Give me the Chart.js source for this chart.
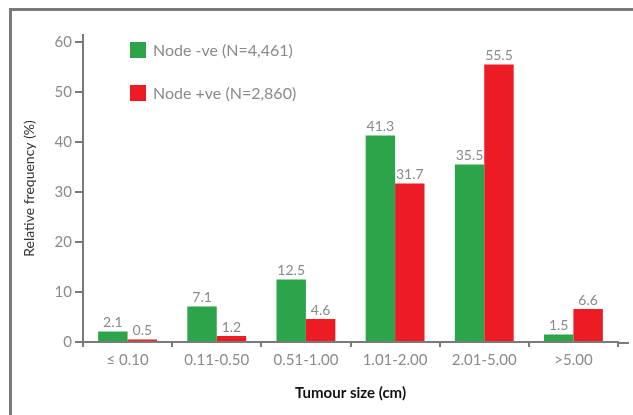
<!DOCTYPE html>
<html>
<head>
<meta charset="utf-8">
<script src="https://cdn.jsdelivr.net/npm/chart.js@4/dist/chart.umd.min.js"></script>
<style>
  html, body { margin: 0; padding: 0; background: #fff; }
  #wrap { position: relative; width: 633px; height: 415px; overflow: hidden; }
  #frame { position: absolute; left: 9px; top: 8px; width: 800px; height: 600px;
           border: 3px solid #7a7a7a; }
  #chart { position: absolute; left: 0; top: 0; }
  .leg { position: absolute; left: 130px; font-family: Lato, "Open Sans", sans-serif;
         font-size: 16px; color: #8a8a8a; line-height: 16px; white-space: nowrap; }
  .leg span { display: inline-block; width: 16px; height: 16px; vertical-align: top; margin-right: 7px; }
</style>
</head>
<body>
<div id="wrap">
  <div id="frame"></div>
  <canvas id="chart" width="633" height="415"></canvas>
  <div class="leg" style="top:42px"><span style="background:#2ca44a"></span>Node -ve (N=4,461)</div>
  <div class="leg" style="top:85px"><span style="background:#ed1c24"></span>Node +ve (N=2,860)</div>
</div>
<script>
// tumour size categories
const categories = ['\u2264 0.10', '0.11-0.50', '0.51-1.00', '1.01-2.00', '2.01-5.00', '>5.00'];

// relative frequency (%)
const nodeNegative = [2.1, 7.1, 12.5, 41.3, 35.5, 1.5];
const nodePositive = [0.5, 1.2, 4.6, 31.7, 55.5, 6.6];

const yTicks = [0, 10, 20, 30, 40, 50, 60];

const fontFamily = 'Lato, "Open Sans", sans-serif';

// values printed above each bar
const barLabels = {
  id: 'barLabels',
  afterDatasetsDraw(chart) {
    const ctx = chart.ctx;
    ctx.save();
    ctx.font = '14px ' + fontFamily;
    ctx.fillStyle = '#8a8a8a';
    ctx.textAlign = 'center';
    ctx.textBaseline = 'bottom';
    chart.data.datasets.forEach((ds, i) => {
      chart.getDatasetMeta(i).data.forEach((bar, j) => {
        ctx.fillText(ds.data[j].toFixed(1), bar.x, bar.y - 2);
      });
    });
    ctx.restore();
  }
};

// x axis line runs a little past the last category
const axisTail = {
  id: 'axisTail',
  afterDraw(chart) {
    const a = chart.chartArea;
    const ctx = chart.ctx;
    ctx.save();
    ctx.strokeStyle = '#7a7a7a';
    ctx.lineWidth = 2;
    ctx.beginPath();
    ctx.moveTo(a.right - 1, a.bottom + 1);
    ctx.lineTo(a.right + 11, a.bottom + 1);
    ctx.stroke();
    ctx.restore();
  }
};

new Chart(document.getElementById('chart'), {
  type: 'bar',
  data: {
    labels: categories,
    datasets: [
      { label: 'Node -ve (N=4,461)', data: nodeNegative, backgroundColor: '#2ca44a' },
      { label: 'Node +ve (N=2,860)', data: nodePositive, backgroundColor: '#ed1c24' }
    ]
  },
  plugins: [barLabels, axisTail],
  options: {
    responsive: false,
    animation: false,
    devicePixelRatio: 1,
    layout: { padding: { left: 13, right: 15, top: 35, bottom: 0 } },
    datasets: { bar: { categoryPercentage: 0.66, barPercentage: 1.0 } },
    plugins: { legend: { display: false }, tooltip: { enabled: false } },
    scales: {
      x: {
        grid: { offset: true, drawOnChartArea: false, drawTicks: true, tickLength: 5, color: '#7a7a7a', lineWidth: 2 },
        border: { color: '#7a7a7a', width: 2 },
        ticks: { color: '#8a8a8a', font: { family: fontFamily, size: 15 }, padding: 4, maxRotation: 0 },
        title: { display: true, text: 'Tumour size (cm)', color: '#111', font: { family: fontFamily, size: 15, weight: 'bold' }, padding: { top: 4, bottom: 13 } },
        afterFit(scale) { scale.height = 73; }
      },
      y: {
        min: 0,
        max: 61.4,
        afterBuildTicks(scale) { scale.ticks = yTicks.map(v => ({ value: v })); },
        grid: { drawOnChartArea: false, drawTicks: true, tickLength: 8, color: '#7a7a7a', lineWidth: 2 },
        border: { color: '#7a7a7a', width: 2 },
        ticks: { color: '#8a8a8a', font: { family: fontFamily, size: 15 }, padding: 3 },
        title: { display: true, text: 'Relative frequency (%)', color: '#333', font: { family: fontFamily, size: 14 }, padding: { top: 8, bottom: 0 } },
        afterFit(scale) { scale.width = 70; }
      }
    }
  }
});
</script>
</body>
</html>
